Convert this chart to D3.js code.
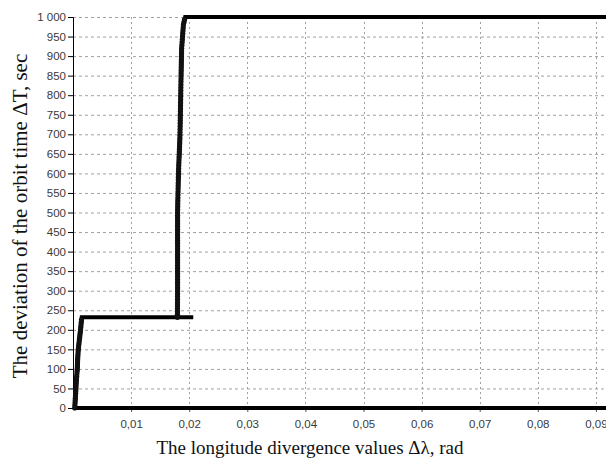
<!DOCTYPE html>
<html>
<head>
<meta charset="utf-8">
<script src="https://cdn.jsdelivr.net/npm/d3@7"></script>
<style>
  body { margin: 0; background: #fff; }
  svg { display: block; }
  .tick text { font-family: "Liberation Sans", Arial, sans-serif; font-size: 11.5px; fill: #3a3a3a; }
  .axis-title { font-family: "Liberation Serif", "Times New Roman", serif; fill: #111; }
</style>
</head>
<body>
<svg id="chart" width="606" height="459"></svg>
<script>
// data
// lower rise near zero
var lowX = [0.0003, 0.0004, 0.0005, 0.0006, 0.00074, 0.0008, 0.00091, 0.0011, 0.0013, 0.0015, 0.0207]
var lowY = [0, 25, 50, 75, 100, 125, 150, 175, 200, 232, 232]
// upper rise near 0.018
var highX = [0.01797, 0.0180, 0.0180, 0.0180, 0.0181, 0.0182, 0.0184, 0.0185, 0.0186, 0.0187, 0.0190, 0.0193, 0.1]
var highY = [232, 300, 400, 500, 568, 620, 690, 766, 850, 920, 980, 1000, 1000]
// points lying on zero
var zeroX = [0.0003, 0.1]
var zeroY = [0, 0]

var yTicks = d3.range(0, 1001, 50)
var xTicks = [0.01, 0.02, 0.03, 0.04, 0.05, 0.06, 0.07, 0.08, 0.09]

var svg = d3.select('#chart')
var margin = { top: 17, left: 73, bottom: 408 }

var x = d3.scaleLinear().domain([0, 0.1]).range([margin.left, 654])
var y = d3.scaleLinear().domain([0, 1000]).range([margin.bottom, margin.top])

var loc = d3.formatLocale({ decimal: ",", thousands: "\u00a0", grouping: [3], currency: ["", ""] })
var fy = loc.format(",d")
var fx = loc.format(".2f")

// grid
svg.append('g')
    .selectAll('line')
    .data(yTicks.filter(function (d) { return d > 0 }))
    .enter()
    .append('line')
    .attr('x1', margin.left).attr('x2', 606)
    .attr('y1', function (d) { return y(d) + 0.5 })
    .attr('y2', function (d) { return y(d) + 0.5 })
    .style('stroke', '#a0a0a0')
    .style('stroke-dasharray', '3,3')

svg.append('g')
    .selectAll('line')
    .data(xTicks)
    .enter()
    .append('line')
    .attr('x1', function (d) { return Math.round(x(d)) + 0.5 })
    .attr('x2', function (d) { return Math.round(x(d)) + 0.5 })
    .attr('y1', margin.top).attr('y2', margin.bottom)
    .style('stroke', '#a0a0a0')
    .style('stroke-dasharray', '2,3')

// axes
var yAxis = d3.axisLeft(y).tickValues(yTicks).tickFormat(fy).tickSize(5).tickPadding(2)
svg.append('g')
    .attr('transform', 'translate(' + margin.left + ',0)')
    .call(yAxis)
    .call(function (g) { g.selectAll('line, path').style('stroke', '#000') })

var xAxis = d3.axisBottom(x).tickValues(xTicks).tickFormat(fx).tickSize(4).tickPadding(8)
svg.append('g')
    .attr('transform', 'translate(0,' + margin.bottom + ')')
    .call(xAxis)
    .call(function (g) { g.select('.domain').remove() })
    .call(function (g) { g.selectAll('line').style('stroke', '#555') })

// minor ticks
svg.append('g')
    .selectAll('line')
    .data(d3.range(0.002, 0.1, 0.002))
    .enter()
    .append('line')
    .attr('x1', function (d) { return x(d) }).attr('x2', function (d) { return x(d) })
    .attr('y1', margin.bottom).attr('y2', margin.bottom + 2)
    .style('stroke', '#555')

// series
var line = d3.line()
    .x(function (d) { return x(d[0]) })
    .y(function (d) { return y(d[1]) })

var series = [d3.zip(zeroX, zeroY), d3.zip(lowX, lowY), d3.zip(highX, highY)]

svg.append('g')
    .selectAll('path')
    .data(series)
    .enter()
    .append('path')
    .attr('d', line)
    .style('fill', 'none')
    .style('stroke', '#000')
    .style('stroke-width', 4)

// dotted markers along the rises
var marks = []
series.slice(1).forEach(function (s) {
    for (var i = 0; i < s.length - 1; i++) {
        var a = s[i], b = s[i + 1]
        if (a[1] == b[1]) continue
        var n = Math.ceil(Math.abs(y(b[1]) - y(a[1])) / 3)
        for (var k = 0; k < n; k++) {
            var t = k / n
            marks.push([a[0] + (b[0] - a[0]) * t, a[1] + (b[1] - a[1]) * t])
        }
    }
})
svg.append('g')
    .selectAll('circle')
    .data(marks)
    .enter()
    .append('circle')
    .attr('cx', function (d) { return x(d[0]) })
    .attr('cy', function (d) { return y(d[1]) })
    .attr('r', 2.6)
    .style('fill', '#111')

// titles
svg.append('text')
    .attr('class', 'axis-title')
    .attr('transform', 'translate(27,216) rotate(-90)')
    .attr('text-anchor', 'middle')
    .style('font-size', '21px')
    .text('The deviation of the orbit time \u0394T, sec')

svg.append('text')
    .attr('class', 'axis-title')
    .attr('x', 310)
    .attr('y', 454)
    .attr('text-anchor', 'middle')
    .style('font-size', '19px')
    .text('The longitude divergence values \u0394\u03bb, rad')
</script>
</body>
</html>
